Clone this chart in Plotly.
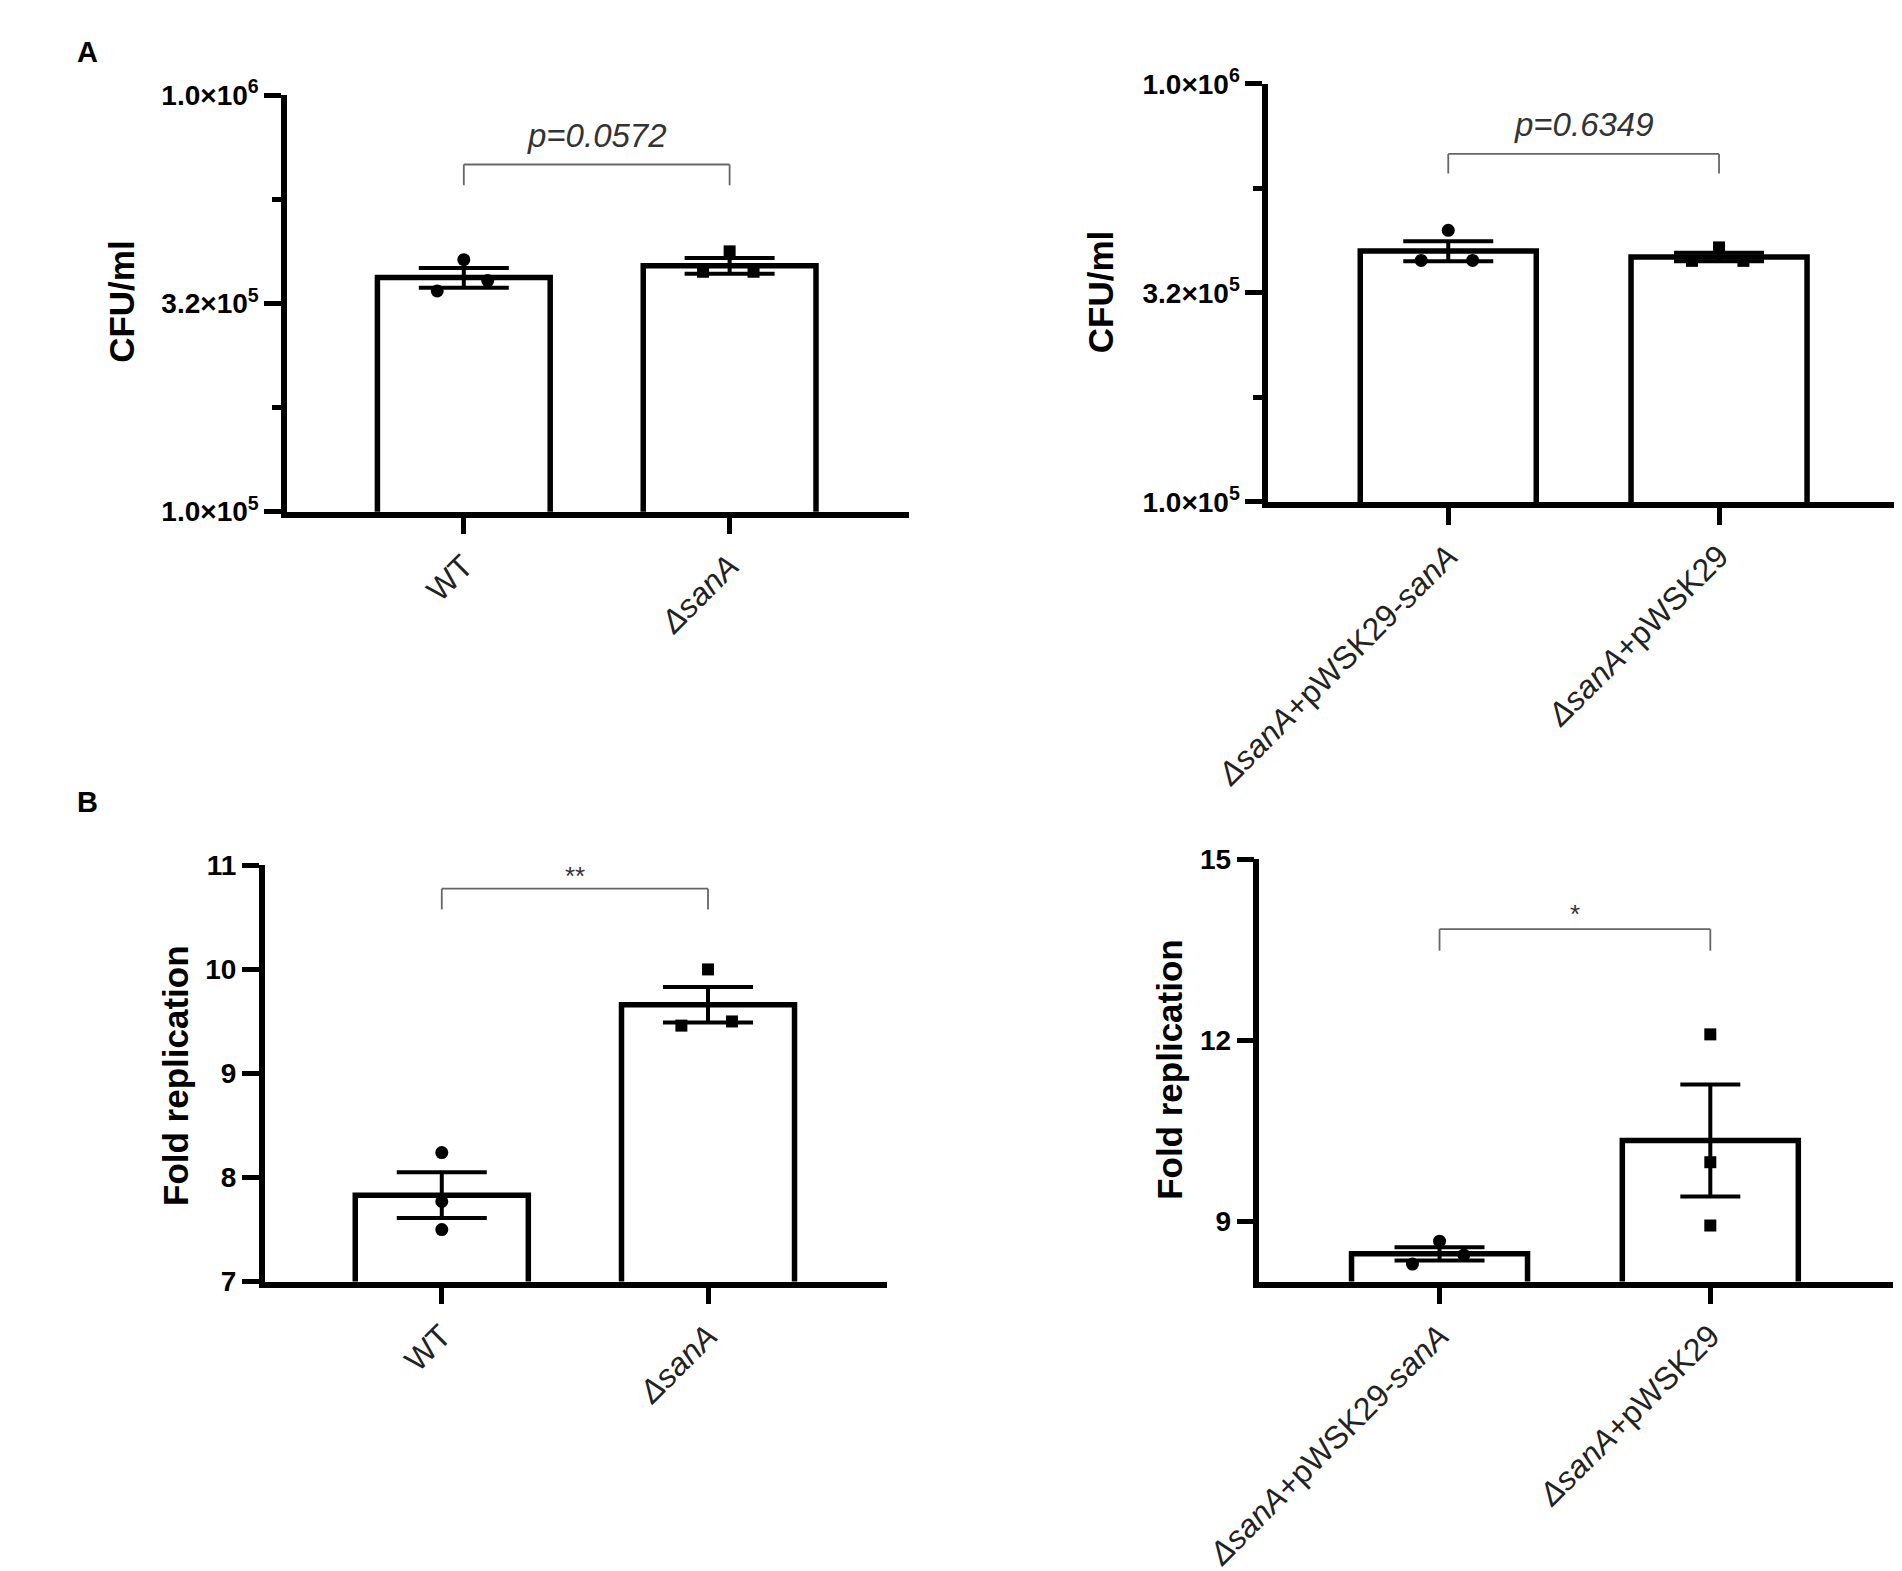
import plotly.graph_objects as go
from plotly.subplots import make_subplots

# Panel A: bacterial load (CFU/ml), log axis
cats_a1 = ["WT", "<i>ΔsanA</i>"]
cfu_wt = [4.03e5, 3.39e5, 3.59e5]
cfu_sana = [4.22e5, 3.77e5, 3.77e5]
cfu_mean_a1 = [3.65e5, 3.90e5]
cfu_sem_a1 = [0.20e5, 0.17e5]

cats_a2 = ["<i>ΔsanA</i>+pWSK29-<i>sanA</i>", "<i>ΔsanA</i>+pWSK29"]
cfu_comp = [4.46e5, 3.78e5, 3.78e5]
cfu_vec = [4.06e5, 3.77e5, 3.77e5]
cfu_mean_a2 = [3.98e5, 3.85e5]
cfu_sem_a2 = [0.22e5, 0.09e5]

# Panel B: fold replication
cats_b1 = ["WT", "<i>ΔsanA</i>"]
fold_wt = [8.24, 7.77, 7.50]
fold_sana = [10.0, 9.46, 9.50]
fold_mean_b1 = [7.83, 9.66]
fold_sem_b1 = [0.22, 0.17]

cats_b2 = ["<i>ΔsanA</i>+pWSK29-<i>sanA</i>", "<i>ΔsanA</i>+pWSK29"]
fold_comp = [8.67, 8.29, 8.44]
fold_vec = [12.10, 9.98, 8.93]
fold_mean_b2 = [8.46, 10.34]
fold_sem_b2 = [0.11, 0.93]

p_labels = ["<i>p=0.0572</i>", "<i>p=0.6349</i>", "**", "*"]
cfu_ticks = [1e5, 10 ** 5.5, 1e6]
cfu_ticktext = ["1.0×10<sup>5</sup>", "3.2×10<sup>5</sup>", "1.0×10<sup>6</sup>"]

# horizontal jitter of the replicate dots (style only)
SPREAD = [0, -0.10, 0.09]
NOSPREAD = [0, 0, 0]

FONT = "Liberation Sans, Arial, sans-serif"
W, H = 1902, 1571

fig = make_subplots(rows=2, cols=2)


def add_panel(row, col, means, sems, pts, offsets, capw):
    symbols = ["circle", "square"]
    sizes = [13, 12]
    for i in range(2):
        fig.add_trace(go.Bar(
            x=[i], y=[means[i]], width=0.65,
            marker=dict(color="white", line=dict(color="black", width=5.5)),
            error_y=dict(type="data", array=[sems[i]], color="black",
                         thickness=4, width=capw[i]),
            showlegend=False), row=row, col=col)
        fig.add_trace(go.Scatter(
            x=[i + o for o in offsets[i]], y=pts[i], mode="markers",
            marker=dict(symbol=symbols[i], size=sizes[i], color="black"),
            showlegend=False, cliponaxis=False), row=row, col=col)


add_panel(1, 1, cfu_mean_a1, cfu_sem_a1, [cfu_wt, cfu_sana], [SPREAD, SPREAD], [45, 45])
add_panel(1, 2, cfu_mean_a2, cfu_sem_a2, [cfu_comp, cfu_vec], [SPREAD, SPREAD], [45, 45])
add_panel(2, 1, fold_mean_b1, fold_sem_b1, [fold_wt, fold_sana], [NOSPREAD, SPREAD], [45, 45])
add_panel(2, 2, fold_mean_b2, fold_sem_b2, [fold_comp, fold_vec], [SPREAD, NOSPREAD], [45, 30])

# axis domains in pixels (left, right, top, bottom)
boxes = [(228, 869, 69, 495), (1240, 1893, 57, 485),
         (205, 847, 857, 1283), (1231, 1884, 851, 1283)]
cats = [cats_a1, cats_a2, cats_b1, cats_b2]

axis_common = dict(showline=True, linecolor="black", linewidth=5.5, ticks="outside",
                   tickcolor="black", tickwidth=5, showgrid=False, zeroline=False)

for k, (l, r, t, b) in enumerate(boxes):
    sfx = "" if k == 0 else str(k + 1)
    fig.layout["xaxis" + sfx].update(
        domain=[l / W, r / W], range=[-0.665, 1.673], tickvals=[0, 1],
        ticktext=cats[k], tickangle=-45, ticklen=17,
        tickfont=dict(family=FONT, size=32, color="#222"), **axis_common)
    fig.layout["yaxis" + sfx].update(
        domain=[1 - b / H, 1 - t / H], ticklen=17,
        tickfont=dict(family=FONT, size=28, color="black", weight="bold"),
        **axis_common)

minor = dict(tickvals=[10 ** 5.25, 10 ** 5.75], ticks="outside", ticklen=9,
             tickwidth=5, tickcolor="black")
for ax in ["yaxis", "yaxis2"]:
    fig.layout[ax].update(type="log", range=[5, 6], tickvals=cfu_ticks,
                          ticktext=cfu_ticktext, minor=minor)
fig.layout.yaxis3.update(range=[7, 11], tickvals=[7, 8, 9, 10, 11])
fig.layout.yaxis4.update(range=[8, 15], tickvals=[9, 12, 15])

# significance brackets: (bracket height, leg bottom, label height) in axis-domain fractions
brackets = [(0.834, 0.784, 0.903, 33), (0.832, 0.785, 0.902, 33),
            (0.944, 0.894, 0.975, 26), (0.835, 0.784, 0.872, 26)]
for k, (yb, yl, yt, fs) in enumerate(brackets):
    sfx = "" if k == 0 else str(k + 1)
    xr, yr = "x" + sfx, "y" + sfx + " domain"
    line = dict(color="#666", width=1.8)
    fig.add_shape(type="line", xref=xr, yref=yr, x0=0, x1=1, y0=yb, y1=yb, line=line)
    fig.add_shape(type="line", xref=xr, yref=yr, x0=0, x1=0, y0=yl, y1=yb, line=line)
    fig.add_shape(type="line", xref=xr, yref=yr, x0=1, x1=1, y0=yl, y1=yb, line=line)
    fig.add_annotation(xref=xr, yref=yr, x=0.5, y=yt, text=p_labels[k], showarrow=False,
                       font=dict(family=FONT, size=fs, color="#333"),
                       xanchor="center", yanchor="middle")

# y-axis titles
titles = [("CFU/ml", 57, 280), ("CFU/ml", 1067, 270),
          ("Fold replication", 113, 1072), ("Fold replication", 1138, 1066)]
for txt, px, py in titles:
    fig.add_annotation(xref="paper", yref="paper", x=px / W, y=1 - py / H, text=txt,
                       textangle=-90, showarrow=False,
                       font=dict(family=FONT, size=35, color="black", weight="bold"),
                       xanchor="center", yanchor="middle")

# panel letters
for txt, px, py in [("A", 22, 25), ("B", 22, 792)]:
    fig.add_annotation(xref="paper", yref="paper", x=px / W, y=1 - py / H, text=txt,
                       showarrow=False,
                       font=dict(family=FONT, size=29, color="black", weight="bold"),
                       xanchor="center", yanchor="middle")

fig.update_layout(width=W, height=H, margin=dict(l=0, r=0, t=0, b=0),
                  plot_bgcolor="white", paper_bgcolor="white", barmode="overlay",
                  showlegend=False)

fig.write_html("out.html")
